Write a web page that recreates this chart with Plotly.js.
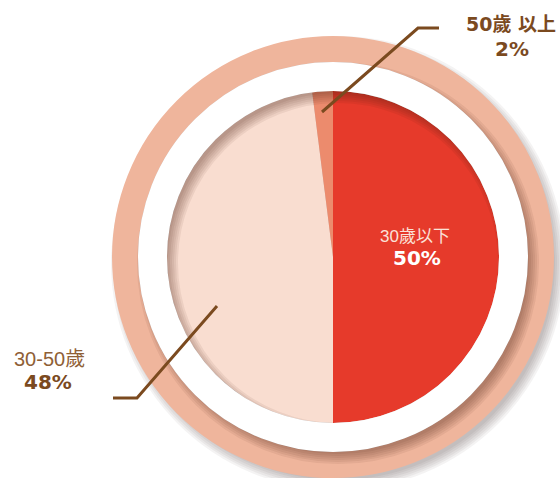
<!DOCTYPE html>
<html>
<head>
<meta charset="utf-8">
<script src="https://cdn.plot.ly/plotly-3.0.1.min.js"></script>
<style>html,body{margin:0;padding:0;background:#fff;}#chart{width:560px;height:478px;}</style>
</head>
<body>
<div id="chart"></div>
<script>
const categories = ['30歲以下', '30-50歲', '50歲 以上'];
const values = [50, 48, 2];
const sliceColors = ['#E63A2B', '#F9DDD0', '#EC8B6D'];
const pctLabels = values.map(v => v + '%');

const W = 560, H = 478;
const cx = 333, cy = 257, R = 166;
const ringMid = 208, ringW = 26;       // peach outer ring
const whiteMid = 180.5, whiteW = 29;   // white spacer ring

const brown = '#7B4A1F';
const fontLight = '"Liberation Sans", "Noto Sans CJK TC", sans-serif';
const fontBold = '"DejaVu Sans", "Noto Sans CJK TC", sans-serif';

const sdx = 5, sdy = 6;
const shapes = [];
function circ(cxx, cyy, r, line, fill, layer) {
  const s = {type:'circle', xref:'x', yref:'y', layer: layer,
    x0: cxx - r, x1: cxx + r, y0: cyy - r, y1: cyy + r, line: line};
  if (fill) s.fillcolor = fill;
  return s;
}
// drop shadow of the whole disk (below)
for (let k = -4; k <= 6; k += 2) {
  shapes.push(circ(cx + sdx, cy + sdy, ringMid + ringW/2 + k, {width:0}, 'rgba(60,40,30,0.055)', 'below'));
}
// peach outer ring
shapes.push(circ(cx, cy, ringMid, {color:'#EFB59C', width:ringW}, null, 'below'));
// shadow of the raised white ring (above the pie)
for (let k = 0; k < 6; k++) {
  shapes.push(circ(cx + sdx, cy + sdy, whiteMid, {color:'rgba(70,35,20,0.07)', width: whiteW - 8 + k*4}, null, 'above'));
}
// white ring
shapes.push(circ(cx, cy, whiteMid, {color:'#FFFFFF', width:whiteW}, null, 'above'));
// leader lines
shapes.push({type:'path', xref:'x', yref:'y', layer:'above',
  path:'M 322 112 L 418 28 L 439 28', line:{color:brown, width:3}});
shapes.push({type:'path', xref:'x', yref:'y', layer:'above',
  path:'M 217 306 L 137 398 L 113 398', line:{color:brown, width:3}});

const annotations = [
  {x:415, y:236, text:categories[0], font:{family:fontLight, size:17, color:'#FBE1D8'}},
  {x:417, y:258, text:'<b>' + pctLabels[0] + '</b>', font:{family:fontBold, size:20, color:'#FFFFFF'}},
  {x:49, y:359, text:categories[1], font:{family:fontLight, size:20, color:'#8F6036'}},
  {x:48, y:382, text:'<b>' + pctLabels[1] + '</b>', font:{family:fontBold, size:20, color:brown}},
  {x:511, y:24, text:'<b>' + categories[2] + '</b>', font:{family:fontBold, size:19, color:brown}},
  {x:512, y:49, text:'<b>' + pctLabels[2] + '</b>', font:{family:fontBold, size:20, color:brown}}
].map(a => Object.assign({xref:'x', yref:'y', showarrow:false, xanchor:'center', yanchor:'middle'}, a));

const trace = {
  type:'pie',
  labels: categories,
  values: values,
  sort: false,
  direction: 'clockwise',
  rotation: 0,
  textinfo: 'none',
  hoverinfo: 'label+percent',
  marker: {colors: sliceColors, line:{width:0}},
  showlegend: false,
  domain: {x:[(cx - R)/W, (cx + R)/W], y:[1 - (cy + R)/H, 1 - (cy - R)/H]}
};

const layout = {
  width: W, height: H,
  margin: {l:0, r:0, t:0, b:0},
  paper_bgcolor:'#FFFFFF', plot_bgcolor:'rgba(0,0,0,0)',
  xaxis: {range:[0, W], visible:false, fixedrange:true, domain:[0,1]},
  yaxis: {range:[H, 0], visible:false, fixedrange:true, domain:[0,1]},
  shapes: shapes,
  annotations: annotations,
  showlegend: false
};

Plotly.newPlot('chart', [trace], layout, {displayModeBar:false, staticPlot:true});
</script>
</body>
</html>
